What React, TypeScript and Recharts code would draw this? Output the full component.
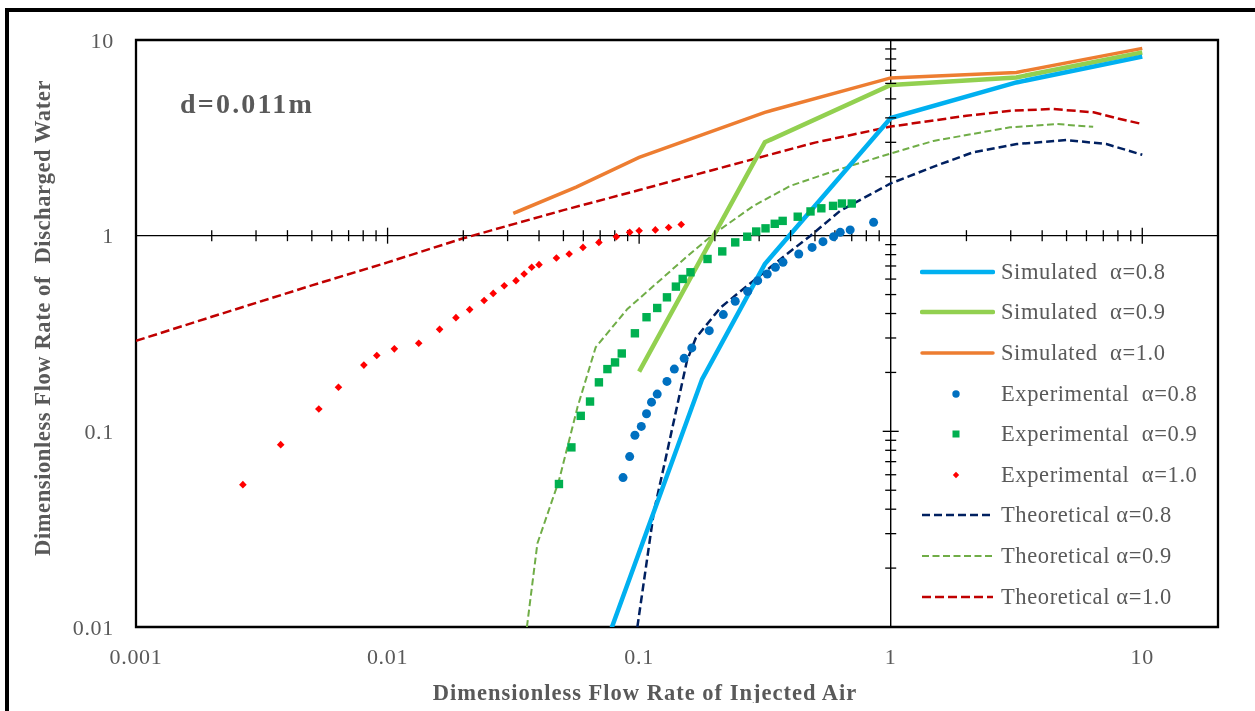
import React from "react";
import {
  ComposedChart,
  Line,
  Scatter,
  XAxis,
  YAxis,
  ReferenceLine,
  ReferenceDot,
  ReferenceArea,
} from "recharts";

const FONT = '"Liberation Serif", "Times New Roman", serif';
const GRAY = "#595959";

const xTicks = [0.001, 0.01, 0.1, 1, 10];
const yTicks = [0.01, 0.1, 1, 10];

// [x, y] pairs
const sim08 = [[0.056, 0.0031], [0.178, 0.185], [0.316, 0.716], [1, 3.99], [3.16, 6.07], [10, 8.22]];
const sim09 = [[0.1, 0.202], [0.316, 3.0], [1, 5.89], [3.16, 6.44], [10, 8.64]];
const sim10 = [[0.0316, 1.3], [0.0562, 1.77], [0.1, 2.51], [0.316, 4.27], [1, 6.4], [3.16, 6.83], [10, 9.06]];

const exp08 = [
  [0.0863, 0.058], [0.0917, 0.0743], [0.0962, 0.0955], [0.102, 0.106], [0.107, 0.123],
  [0.112, 0.141], [0.118, 0.155], [0.129, 0.18], [0.138, 0.208], [0.151, 0.236],
  [0.162, 0.267], [0.19, 0.327], [0.216, 0.395], [0.241, 0.462], [0.27, 0.519],
  [0.296, 0.589], [0.323, 0.637], [0.348, 0.689], [0.373, 0.731], [0.431, 0.806],
  [0.487, 0.871], [0.538, 0.932], [0.593, 0.988], [0.63, 1.04], [0.69, 1.07], [0.855, 1.17],
];
const exp09 = [
  [0.048, 0.0538], [0.0538, 0.0828], [0.0586, 0.12], [0.0638, 0.142], [0.0692, 0.178],
  [0.0748, 0.208], [0.0802, 0.225], [0.0853, 0.25], [0.0962, 0.317], [0.107, 0.383],
  [0.118, 0.427], [0.129, 0.484], [0.14, 0.549], [0.149, 0.601], [0.16, 0.65],
  [0.187, 0.76], [0.214, 0.831], [0.241, 0.924], [0.269, 0.988], [0.292, 1.05],
  [0.318, 1.09], [0.346, 1.15], [0.372, 1.19], [0.427, 1.25], [0.48, 1.33],
  [0.53, 1.38], [0.59, 1.42], [0.64, 1.46], [0.7, 1.46],
];
const exp10 = [
  [0.00266, 0.0534], [0.00376, 0.0855], [0.00533, 0.13], [0.00638, 0.168], [0.00805, 0.218],
  [0.00906, 0.244], [0.01064, 0.264], [0.0133, 0.282], [0.0161, 0.332], [0.0187, 0.381],
  [0.0212, 0.419], [0.0242, 0.466], [0.0263, 0.507], [0.0291, 0.555], [0.0324, 0.589],
  [0.0349, 0.637], [0.0374, 0.689], [0.04, 0.711], [0.0469, 0.769], [0.0527, 0.806],
  [0.0598, 0.871], [0.0692, 0.924], [0.0812, 0.988], [0.0917, 1.04], [0.1, 1.06],
  [0.116, 1.07], [0.131, 1.1], [0.147, 1.14],
];

const theo08 = [
  [0.0984, 0.01], [0.1145, 0.039], [0.127, 0.071], [0.144, 0.149], [0.155, 0.23],
  [0.168, 0.3], [0.211, 0.43], [0.285, 0.589], [0.387, 0.806], [0.48, 1.0],
  [0.63, 1.34], [1, 1.85], [1.52, 2.28], [2.13, 2.67], [3.17, 2.94], [5.0, 3.08],
  [7.2, 2.94], [10, 2.59],
];
const theo09 = [
  [0.0358, 0.01], [0.0394, 0.0267], [0.048, 0.056], [0.0569, 0.133], [0.0672, 0.269],
  [0.0898, 0.422], [0.151, 0.76], [0.198, 1.02], [0.285, 1.42], [0.4, 1.8], [0.63, 2.19],
  [1, 2.63], [1.48, 3.05], [2.98, 3.58], [4.57, 3.72], [6.38, 3.6],
];
const theo10 = [
  [0.001, 0.29], [0.002, 0.385], [0.005, 0.557], [0.01, 0.73], [0.02, 0.97],
  [0.05, 1.35], [0.1, 1.71], [0.2, 2.18], [0.5, 2.99], [1, 3.61], [2, 4.1],
  [3, 4.35], [4.4, 4.44], [6.4, 4.27], [8, 3.97], [10, 3.72],
];

const toPts = (arr: number[][]) => arr.map(([x, y]) => ({ x, y }));

// minor tick positions on the crossing axes (x=1, y=1)
const mult = [2, 3, 4, 5, 6, 7, 8, 9];
const minorX = [0.001, 0.01, 0.1, 1].flatMap((d) => mult.map((m) => +(d * m).toPrecision(3)));
const majorX = [0.01, 0.1, 10];
const minorY = [0.01, 0.1, 1].flatMap((d) => mult.map((m) => +(d * m).toPrecision(3)));
const majorY = [0.1];

const vTick = (half: number) => (p: any) => (
  <line x1={p.cx} x2={p.cx} y1={p.cy - half} y2={p.cy + half} stroke="#000" strokeWidth={1.3} />
);
const hTick = (half: number) => (p: any) => (
  <line x1={p.cx - half} x2={p.cx + half} y1={p.cy} y2={p.cy} stroke="#000" strokeWidth={1.3} />
);

const circleShape = (p: any) => <circle cx={p.cx} cy={p.cy} r={4.5} fill="#0070C0" />;
const squareShape = (p: any) => <rect x={p.cx - 4.2} y={p.cy - 4.2} width={8.4} height={8.4} fill="#00B050" />;
const diamondShape = (p: any) => (
  <polygon
    points={`${p.cx},${p.cy - 3.8} ${p.cx + 3.8},${p.cy} ${p.cx},${p.cy + 3.8} ${p.cx - 3.8},${p.cy}`}
    fill="#FF0000"
  />
);

const legendRows = [
  { label: "Simulated  α=0.8", kind: "line", color: "#00B0F0", w: 4.5, dash: "" },
  { label: "Simulated  α=0.9", kind: "line", color: "#92D050", w: 4.5, dash: "" },
  { label: "Simulated  α=1.0", kind: "line", color: "#ED7D31", w: 3.5, dash: "" },
  { label: "Experimental  α=0.8", kind: "circle", color: "#0070C0", w: 0, dash: "" },
  { label: "Experimental  α=0.9", kind: "square", color: "#00B050", w: 0, dash: "" },
  { label: "Experimental  α=1.0", kind: "diamond", color: "#FF0000", w: 0, dash: "" },
  { label: "Theoretical α=0.8", kind: "line", color: "#002060", w: 2.5, dash: "8 4" },
  { label: "Theoretical α=0.9", kind: "line", color: "#70AD47", w: 2, dash: "7 3.5" },
  { label: "Theoretical α=1.0", kind: "line", color: "#C00000", w: 2.5, dash: "9 4" },
];

function LegendSample({ row }: { row: (typeof legendRows)[number] }) {
  return (
    <svg width={75} height={40}>
      {row.kind === "line" && (
        <line x1={2} x2={73} y1={20} y2={20} stroke={row.color} strokeWidth={row.w}
          strokeDasharray={row.dash || undefined} strokeLinecap={row.dash ? "butt" : "round"} />
      )}
      {row.kind === "circle" && <circle cx={36} cy={20} r={3.7} fill={row.color} />}
      {row.kind === "square" && <rect x={32.5} y={16.5} width={7} height={7} fill={row.color} />}
      {row.kind === "diamond" && <polygon points="36,16.8 39.2,20 36,23.2 32.8,20" fill={row.color} />}
    </svg>
  );
}

export default function App() {
  const tickStyle = { fontSize: 22, fill: GRAY, fontFamily: FONT, letterSpacing: 0.7 };
  return (
    <div style={{ position: "relative", width: 1247, height: 695, fontFamily: FONT }}>
      <div style={{ position: "fixed", left: 5, top: 8, width: 3.5, bottom: 0, background: "#000" }} />
      <div style={{ position: "fixed", left: 5, top: 8, right: 0, height: 3.5, background: "#000" }} />

      <ComposedChart width={1247} height={695} margin={{ top: 32, right: 37, left: 0, bottom: 0 }}>
        <XAxis
          dataKey="x"
          type="number"
          scale="log"
          domain={[0.001, 20]}
          ticks={xTicks}
          interval={0}
          allowDataOverflow
          axisLine={false}
          tickLine={false}
          tickSize={0}
          tickMargin={21}
          height={76}
          tick={tickStyle}
          tickFormatter={(v) => String(v)}
        />
        <YAxis
          dataKey="y"
          type="number"
          scale="log"
          domain={[0.01, 10]}
          ticks={yTicks}
          interval={0}
          allowDataOverflow
          axisLine={false}
          tickLine={false}
          tickSize={0}
          tickMargin={22}
          width={128}
          tick={tickStyle}
          tickFormatter={(v) => String(v)}
        />

        <ReferenceLine y={1} stroke="#000" strokeWidth={1.4} />
        <ReferenceLine x={1} stroke="#000" strokeWidth={1.4} />
        {minorX.map((v) => (
          <ReferenceDot key={"mx" + v} x={v} y={1} shape={vTick(5.5)} />
        ))}
        {majorX.map((v) => (
          <ReferenceDot key={"Mx" + v} x={v} y={1} shape={vTick(8)} />
        ))}
        {minorY.map((v) => (
          <ReferenceDot key={"my" + v} x={1} y={v} shape={hTick(5.5)} />
        ))}
        {majorY.map((v) => (
          <ReferenceDot key={"My" + v} x={1} y={v} shape={hTick(8)} />
        ))}

        <Line data={toPts(theo10)} dataKey="y" stroke="#C00000" strokeWidth={2.5} strokeDasharray="9 4" dot={false} isAnimationActive={false} />
        <Line data={toPts(theo09)} dataKey="y" stroke="#70AD47" strokeWidth={2} strokeDasharray="7 3.5" dot={false} isAnimationActive={false} />
        <Line data={toPts(theo08)} dataKey="y" stroke="#002060" strokeWidth={2.5} strokeDasharray="8 4" dot={false} isAnimationActive={false} />

        <Line data={toPts(sim10)} dataKey="y" stroke="#ED7D31" strokeWidth={3.5} dot={false} isAnimationActive={false} />
        <Line data={toPts(sim09)} dataKey="y" stroke="#92D050" strokeWidth={4.5} dot={false} isAnimationActive={false} />
        <Line data={toPts(sim08)} dataKey="y" stroke="#00B0F0" strokeWidth={4.5} dot={false} isAnimationActive={false} />

        <Scatter data={toPts(exp10)} dataKey="y" shape={diamondShape} isAnimationActive={false} />
        <Scatter data={toPts(exp09)} dataKey="y" shape={squareShape} isAnimationActive={false} />
        <Scatter data={toPts(exp08)} dataKey="y" shape={circleShape} isAnimationActive={false} />

        <ReferenceArea x1={0.001} x2={20} y1={0.01} y2={10} fill="none" stroke="#000" strokeWidth={2.3} />
      </ComposedChart>

      <svg width={1247} height={695} style={{ position: "absolute", left: 0, top: 0, pointerEvents: "none", overflow: "visible" }}>
        <text x={172} y={105} fontSize={28} fontWeight="bold" fill={GRAY} fontFamily={FONT} letterSpacing={2.2}>
          d=0.011m
        </text>
        <text x={637} y={692} fontSize={22.5} fontWeight="bold" fill={GRAY} fontFamily={FONT} textAnchor="middle" letterSpacing={1}>
          Dimensionless Flow Rate of Injected Air
        </text>
        <text
          transform="translate(42, 310) rotate(-90)"
          fontSize={22.5}
          fontWeight="bold"
          fill={GRAY}
          fontFamily={FONT}
          textAnchor="middle"
          letterSpacing={0.6}
          style={{ whiteSpace: "pre" }}
        >
          {"Dimensionless Flow Rate of  Discharged Water"}
        </text>
      </svg>

      {legendRows.map((row, i) => (
        <div
          key={row.label}
          style={{ position: "absolute", left: 912, top: 243.7 + i * 40.6, height: 40, display: "flex", alignItems: "center" }}
        >
          <LegendSample row={row} />
          <span style={{ marginLeft: 6, fontSize: 22.5, letterSpacing: 0.6, color: GRAY, whiteSpace: "pre" }}>{row.label}</span>
        </div>
      ))}
    </div>
  );
}
